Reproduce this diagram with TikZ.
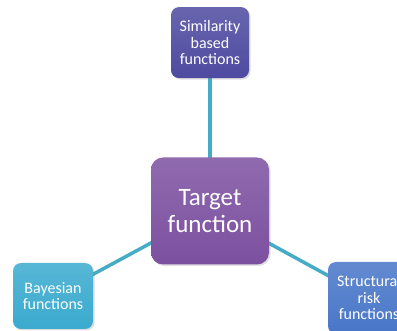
\documentclass[tikz,border=0pt]{standalone}
\usepackage{fontspec}
\setmainfont{Carlito}
\usepackage{xcolor}
\usetikzlibrary{positioning,shadows,backgrounds}

\definecolor{linkcol}{RGB}{70,172,198}
\definecolor{targetcol}{RGB}{124,80,160}
\definecolor{simcol}{RGB}{78,74,160}
\definecolor{bayescol}{RGB}{58,170,206}
\definecolor{riskcol}{RGB}{72,118,200}

\begin{document}
\begin{tikzpicture}[
  x=1pt, y=1pt,
  box/.style={rounded corners=8pt, align=center, text=white, inner sep=0pt,
    font=\fontsize{16}{16.5}\selectfont,
    drop shadow={opacity=0.25, shadow xshift=1.5pt, shadow yshift=-1.5pt}},
  mainbox/.style={box, rounded corners=12pt, minimum width=118pt, minimum height=107pt,
    font=\fontsize{25}{27}\selectfont},
  link/.style={draw=linkcol, line width=3.5pt}
]
\useasboundingbox (0,0) rectangle (397,-331);
\clip (0,0) rectangle (397,-331);

\node[mainbox, top color=targetcol!85!white, bottom color=targetcol] (target) at (210,-211) {Target\\function};
\node[box, minimum width=78pt, minimum height=71pt, top color=simcol!85!white, bottom color=simcol,
  above=79pt of target] (sim) {Similarity\\based\\functions};
\node[box, minimum width=80pt, minimum height=66pt, top color=bayescol!85!white, bottom color=bayescol] (bayes) at (53,-296) {Bayesian\\functions};
\node[box, minimum width=82pt, minimum height=72pt, top color=riskcol!85!white, bottom color=riskcol] (risk) at (369,-298) {Structural\\risk\\functions};

% connectors sit behind the boxes
\begin{scope}[on background layer]
\draw[link] (target.center) -- (sim.center);
\draw[link] (target.center) -- (bayes.center);
\draw[link] (target.center) -- (risk.center);
\end{scope}
\end{tikzpicture}
\end{document}
